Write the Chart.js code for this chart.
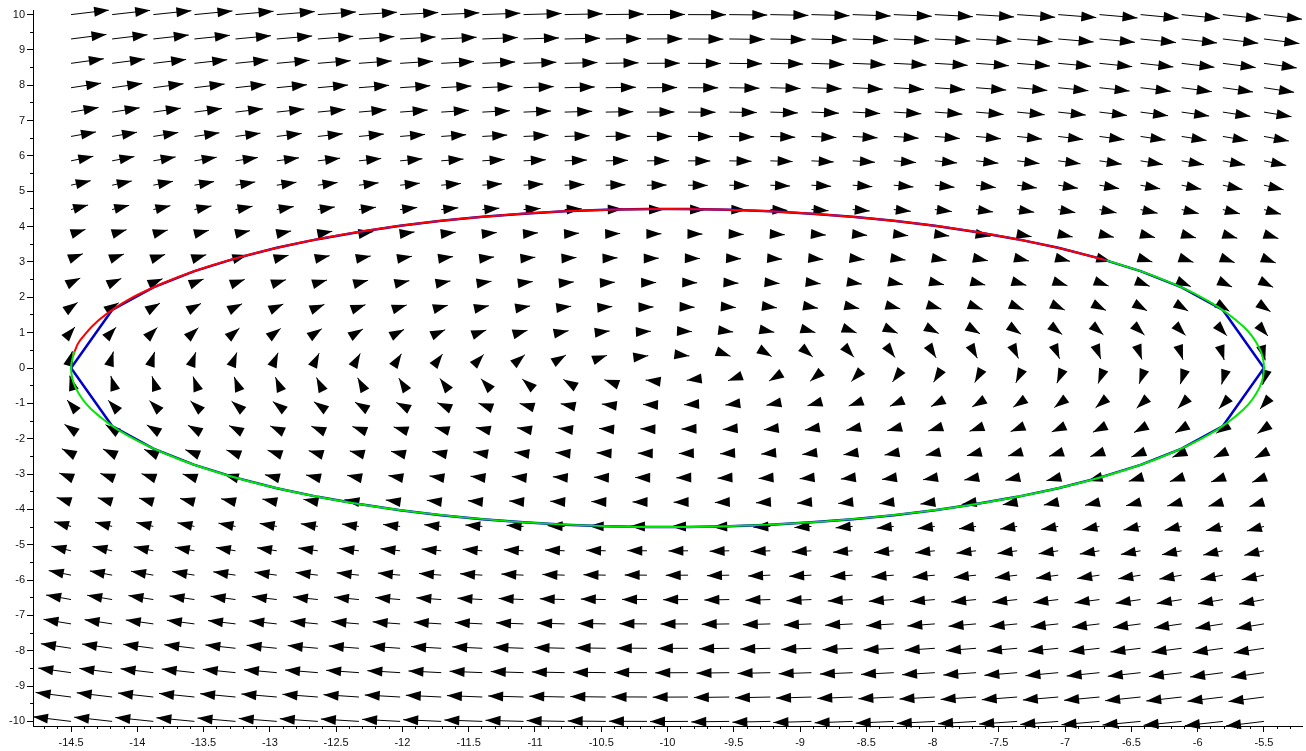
<!DOCTYPE html>
<html>
<head>
<meta charset="utf-8">
<script src="https://cdn.jsdelivr.net/npm/chart.js@4.4.1/dist/chart.umd.min.js"></script>
<style>
  html, body { margin: 0; padding: 0; background: #ffffff; }
  canvas { display: block; }
</style>
</head>
<body>
<canvas id="champ" width="1306" height="751"></canvas>
<script>
// Grid of sample points for the direction field
const xGrid = [-14.5, -14.19, -13.879, -13.569, -13.259, -12.948, -12.638, -12.328, -12.017, -11.707,
               -11.397, -11.086, -10.776, -10.466, -10.155, -9.845, -9.534, -9.224, -8.914, -8.603,
               -8.293, -7.983, -7.672, -7.362, -7.052, -6.741, -6.431, -6.121, -5.81, -5.5];
const yGrid = [-10, -9.31, -8.621, -7.931, -7.241, -6.552, -5.862, -5.172, -4.483, -3.793,
               -3.103, -2.414, -1.724, -1.034, -0.345, 0.345, 1.034, 1.724, 2.414, 3.103,
               3.793, 4.483, 5.172, 5.862, 6.552, 7.241, 7.931, 8.621, 9.31, 10];

// Horizontal velocity along each row (dx/dt)
const uRow = [-10, -9.31, -8.621, -7.931, -7.241, -6.552, -5.862, -5.172, -4.483, -3.793,
              -3.103, -2.414, -1.724, -1.034, -0.345, 0.345, 1.034, 1.724, 2.414, 3.103,
              3.793, 4.483, 5.172, 5.862, 6.552, 7.241, 7.931, 8.621, 9.31, 10];
// Vertical velocity down each column (dy/dt)
const vCol = [4.5, 4.19, 3.879, 3.569, 3.259, 2.948, 2.638, 2.328, 2.017, 1.707,
              1.397, 1.086, 0.776, 0.466, 0.155, -0.155, -0.466, -0.776, -1.086, -1.397,
              -1.707, -2.017, -2.328, -2.638, -2.948, -3.259, -3.569, -3.879, -4.19, -4.5];

// Trajectory, first part (red)
const redX = [-14.489, -14.432, -14.229, -13.897, -13.447, -12.893, -12.25, -11.539, -10.781, -10,
              -9.219, -8.461, -7.75, -7.107, -6.688];
const redY = [0.314, 0.781, 1.539, 2.25, 2.893, 3.447, 3.897, 4.229, 4.432, 4.5,
              4.432, 4.229, 3.897, 3.447, 3.046];

// Trajectory, continuation (green)
const greenX = [-6.688, -6.314, -5.922, -5.653, -5.533, -5.5, -5.533, -5.653, -5.922, -6.314,
                -6.818, -7.419, -8.098, -8.835, -9.608, -10.392, -11.165, -11.902, -12.581, -13.182,
                -13.686, -14.078, -14.347, -14.467, -14.5, -14.475];
const greenY = [3.046, 2.581, 1.902, 1.165, 0.548, 0, -0.548, -1.165, -1.902, -2.581,
                -3.182, -3.686, -4.078, -4.347, -4.483, -4.483, -4.347, -4.078, -3.686, -3.182,
                -2.581, -1.902, -1.165, -0.548, 0, 0.47];

// Orbit sampled at the grid abscissae (blue): upper half left to right, lower half back
const blueX = [-14.5, -14.19, -13.879, -13.569, -13.259, -12.948, -12.638, -12.328, -12.017, -11.707,
               -11.397, -11.086, -10.776, -10.466, -10.155, -9.845, -9.534, -9.224, -8.914, -8.603,
               -8.293, -7.983, -7.672, -7.362, -7.052, -6.741, -6.431, -6.121, -5.81, -5.5,
               -5.81, -6.121, -6.431, -6.741, -7.052, -7.362, -7.672, -7.983, -8.293, -8.603,
               -8.914, -9.224, -9.534, -9.845, -10.155, -10.466, -10.776, -11.086, -11.397, -11.707,
               -12.017, -12.328, -12.638, -12.948, -13.259, -13.569, -13.879, -14.19, -14.5];
const blueY = [0, 1.641, 2.281, 2.741, 3.103, 3.4, 3.646, 3.851, 4.023, 4.164,
               4.278, 4.367, 4.433, 4.476, 4.497, 4.497, 4.476, 4.433, 4.367, 4.278,
               4.164, 4.023, 3.851, 3.646, 3.4, 3.103, 2.741, 2.281, 1.641, 0,
               -1.641, -2.281, -2.741, -3.103, -3.4, -3.646, -3.851, -4.023, -4.164, -4.278,
               -4.367, -4.433, -4.476, -4.497, -4.497, -4.476, -4.433, -4.367, -4.278, -4.164,
               -4.023, -3.851, -3.646, -3.4, -3.103, -2.741, -2.281, -1.641, 0];

// Axis tick labels
const xTickLabels = [-14.5, -14, -13.5, -13, -12.5, -12, -11.5, -11, -10.5, -10,
                     -9.5, -9, -8.5, -8, -7.5, -7, -6.5, -6, -5.5];
const yTickLabels = [-10, -9, -8, -7, -6, -5, -4, -3, -2, -1, 0, 1, 2, 3, 4, 5, 6, 7, 8, 9, 10];

// Axis bounds and arrow drawing style
const X_MIN = -14.787, X_MAX = -5.213, Y_MIN = -10.13, Y_MAX = 10.13;
const ARROW_SCALE = 0.0287;   // data units per unit of velocity
const HEAD_LEN = 15;          // px
const HEAD_HALF = 5;          // px

// Arrow shafts: tail, tip, gap
const shafts = [];
yGrid.forEach((y0, i) => {
  xGrid.forEach((x0, j) => {
    shafts.push({ x: x0, y: y0 });
    shafts.push({ x: x0 + ARROW_SCALE * uRow[i], y: y0 + ARROW_SCALE * vCol[j] });
    shafts.push({ x: x0, y: null });
  });
});

const toPoints = (xs, ys) => xs.map((x, k) => ({ x: x, y: ys[k] }));

const xMinorTicks = [];
for (let k = -147; k <= -53; k++) xMinorTicks.push(k / 10);
const yMinorTicks = [];
for (let k = -19; k <= 19; k += 2) yMinorTicks.push(k / 2);

// Filled arrow heads drawn right after the shafts, beneath the trajectories
const arrowHeads = {
  id: 'arrowHeads',
  afterDatasetDraw(chart, args) {
    if (chart.data.datasets[args.index].label !== 'champ') return;
    const pts = args.meta.data;
    const ctx = chart.ctx;
    ctx.save();
    ctx.fillStyle = '#000000';
    for (let k = 0; k + 1 < pts.length; k += 3) {
      const a = pts[k], b = pts[k + 1];
      let dx = b.x - a.x, dy = b.y - a.y;
      const len = Math.hypot(dx, dy);
      if (!(len > 1e-9)) continue;
      dx /= len; dy /= len;
      const bx = b.x - dx * HEAD_LEN, by = b.y - dy * HEAD_LEN;
      ctx.beginPath();
      ctx.moveTo(b.x, b.y);
      ctx.lineTo(bx - dy * HEAD_HALF, by + dx * HEAD_HALF);
      ctx.lineTo(bx + dy * HEAD_HALF, by - dx * HEAD_HALF);
      ctx.closePath();
      ctx.fill();
    }
    ctx.restore();
  }
};

Chart.defaults.font.family = "'Liberation Sans', Arial, Helvetica, sans-serif";
Chart.defaults.font.size = 11;
Chart.defaults.color = '#111111';

new Chart(document.getElementById('champ'), {
  type: 'scatter',
  data: {
    datasets: [
      { label: 'green', data: toPoints(greenX, greenY), showLine: true, borderColor: '#00e600',
        borderWidth: 2, pointRadius: 0, tension: 0.4, fill: false, xAxisID: 'x', yAxisID: 'y' },
      { label: 'red', data: toPoints(redX, redY), showLine: true, borderColor: '#ff0000',
        borderWidth: 2, pointRadius: 0, tension: 0.4, fill: false, xAxisID: 'x', yAxisID: 'y' },
      { label: 'blue', data: toPoints(blueX, blueY), showLine: true, borderColor: '#0000c8',
        borderWidth: 2.5, pointRadius: 0, tension: 0, fill: false, xAxisID: 'x', yAxisID: 'y' },
      { label: 'champ', data: shafts, showLine: true, borderColor: '#000000',
        borderWidth: 1, pointRadius: 0, tension: 0, spanGaps: false, fill: false,
        xAxisID: 'x', yAxisID: 'y' }
    ]
  },
  options: {
    responsive: false,
    animation: false,
    devicePixelRatio: 1,
    events: [],
    layout: { padding: { top: 10, right: 4, left: 0, bottom: 0 } },
    plugins: { legend: { display: false }, tooltip: { enabled: false } },
    scales: {
      x: {
        type: 'linear', position: 'bottom', min: X_MIN, max: X_MAX,
        afterBuildTicks: s => { s.ticks = xTickLabels.map(v => ({ value: v })); },
        afterFit: s => { s.height = 25; },
        ticks: { callback: v => String(v), padding: 4, maxRotation: 0, autoSkip: false, color: '#111111' },
        grid: { drawOnChartArea: false, drawTicks: true, tickLength: 6, color: '#000000' },
        border: { display: true, color: '#000000', width: 1 }
      },
      y: {
        type: 'linear', position: 'left', min: Y_MIN, max: Y_MAX,
        afterBuildTicks: s => { s.ticks = yTickLabels.map(v => ({ value: v })); },
        afterFit: s => { s.width = 33; },
        ticks: { callback: v => String(v), padding: 2, autoSkip: false, color: '#111111' },
        grid: { drawOnChartArea: false, drawTicks: true, tickLength: 6, color: '#000000' },
        border: { display: true, color: '#000000', width: 1 }
      },
      xMinor: {
        type: 'linear', axis: 'x', position: { y: Y_MIN }, min: X_MIN, max: X_MAX,
        afterBuildTicks: s => { s.ticks = xMinorTicks.map(v => ({ value: v })); },
        ticks: { display: false },
        grid: { drawOnChartArea: false, drawTicks: true, tickLength: 3, color: '#000000' },
        border: { display: false }
      },
      yMinor: {
        type: 'linear', axis: 'y', position: { x: X_MIN }, min: Y_MIN, max: Y_MAX,
        afterBuildTicks: s => { s.ticks = yMinorTicks.map(v => ({ value: v })); },
        ticks: { display: false },
        grid: { drawOnChartArea: false, drawTicks: true, tickLength: 3, color: '#000000' },
        border: { display: false }
      }
    }
  },
  plugins: [arrowHeads]
});
</script>
</body>
</html>
